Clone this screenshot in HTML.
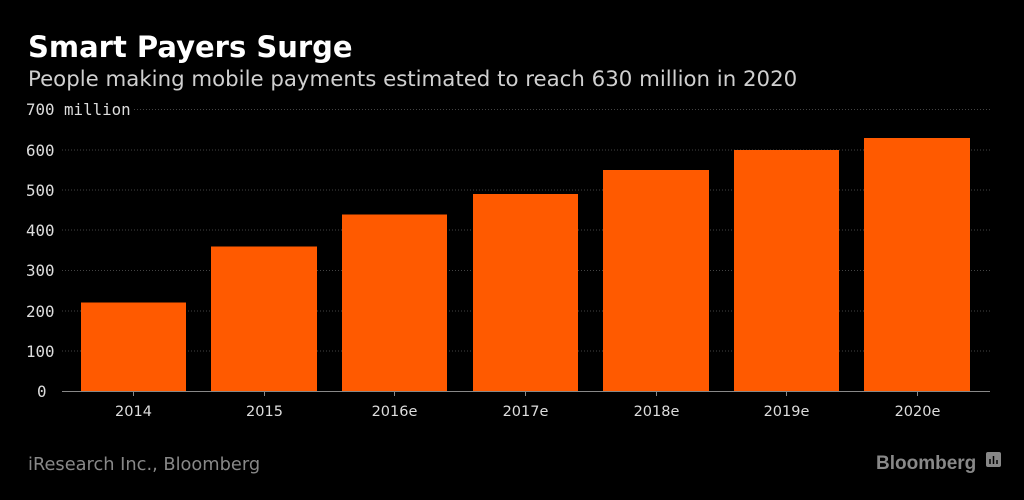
<!DOCTYPE html>
<html><head><style>
html,body{margin:0;padding:0;background:#000;}
svg{display:block}
</style></head><body>
<svg width="1024" height="500" xmlns="http://www.w3.org/2000/svg" font-family="'DejaVu Sans','Liberation Sans',sans-serif">
<rect width="1024" height="500" fill="#000"/>
<text x="28" y="57" fill="#fff" font-size="29" font-weight="bold" font-family="'DejaVu Sans',sans-serif">Smart Payers Surge</text>
<text x="28" y="86" fill="#d0d0d0" font-size="21.3">People making mobile payments estimated to reach 630 million in 2020</text>
<g stroke="#444" stroke-width="1" stroke-dasharray="1,2">
<line x1="134" y1="109.5" x2="990" y2="109.5"/>
<line x1="62" y1="150" x2="990" y2="150"/>
<line x1="62" y1="190" x2="990" y2="190"/>
<line x1="62" y1="230" x2="990" y2="230"/>
<line x1="62" y1="270.5" x2="990" y2="270.5"/>
<line x1="62" y1="311" x2="990" y2="311"/>
<line x1="62" y1="351" x2="990" y2="351"/>
</g>
<g fill="#ddd" font-size="15.8" font-family="'DejaVu Sans Mono','Liberation Mono',monospace">
<text x="26" y="115">700 million</text>
<text x="26" y="156">600</text>
<text x="26" y="196">500</text>
<text x="26" y="236">400</text>
<text x="26" y="276">300</text>
<text x="26" y="317">200</text>
<text x="26" y="357">100</text>
<text x="37" y="397">0</text>
</g>
<g fill="#ff5a00">
<rect x="81" y="302.5" width="105" height="88.5"/>
<rect x="211" y="246.5" width="106" height="144.5"/>
<rect x="342" y="214.5" width="105" height="176.5"/>
<rect x="473" y="194" width="105" height="197"/>
<rect x="603" y="170" width="106" height="221"/>
<rect x="734" y="150" width="105" height="241"/>
<rect x="864" y="138" width="106" height="253"/>
</g>
<line x1="62" y1="391.5" x2="990" y2="391.5" stroke="#888" stroke-width="1"/>
<g stroke="#888" stroke-width="1">
<line x1="133.5" y1="391" x2="133.5" y2="396"/>
<line x1="264.5" y1="391" x2="264.5" y2="396"/>
<line x1="394.5" y1="391" x2="394.5" y2="396"/>
<line x1="525.5" y1="391" x2="525.5" y2="396"/>
<line x1="656.5" y1="391" x2="656.5" y2="396"/>
<line x1="786.5" y1="391" x2="786.5" y2="396"/>
<line x1="917.5" y1="391" x2="917.5" y2="396"/>
</g>
<g fill="#ddd" font-size="14.5" text-anchor="middle">
<text x="133.5" y="416">2014</text>
<text x="264.5" y="416">2015</text>
<text x="394.5" y="416">2016e</text>
<text x="525.5" y="416">2017e</text>
<text x="656.5" y="416">2018e</text>
<text x="786.5" y="416">2019e</text>
<text x="917.5" y="416">2020e</text>
</g>
<text x="28" y="470" fill="#888" font-size="17.8">iResearch Inc., Bloomberg</text>
<text x="876" y="469" fill="#888" font-size="19" font-weight="bold" font-family="'Liberation Sans',sans-serif">Bloomberg</text>
<rect x="986" y="452" width="15" height="15" rx="2" fill="#888"/>
<g stroke="#000" stroke-width="1.5"><line x1="990" y1="464" x2="990" y2="459"/><line x1="993.5" y1="464" x2="993.5" y2="456"/><line x1="997" y1="464" x2="997" y2="460"/></g>
</svg>
</body></html>
